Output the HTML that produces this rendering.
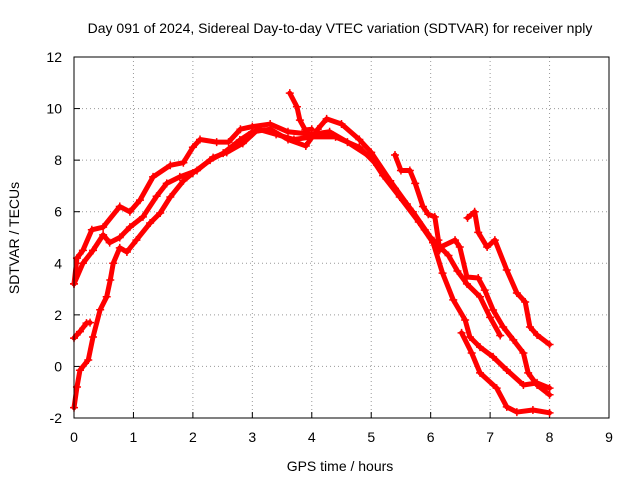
<!DOCTYPE html>
<html><head><meta charset="utf-8"><style>
body{margin:0;background:#fff}
svg text{font-family:"Liberation Sans",sans-serif;font-size:14px;fill:#000}
</style></head><body>
<svg id="c" width="640" height="480">
<text x="340" y="33" text-anchor="middle">Day 091 of 2024, Sidereal Day-to-day VTEC variation (SDTVAR) for receiver nply</text>
<text x="340" y="471" text-anchor="middle">GPS time / hours</text>
<text transform="translate(19,238) rotate(-90)" text-anchor="middle">SDTVAR / TECUs</text>
<g id="grid"></g>
<g id="ticks"></g>
<g id="series"></g>
<rect x="74" y="57" width="535" height="361" fill="none" stroke="#000"/>
</svg>
<script>
const xTicks=[0,1,2,3,4,5,6,7,8,9];
const yTicks=[-2,0,2,4,6,8,10,12];
const trackA=[[0,3.2],[0.05,4.2],[0.15,4.5],[0.3,5.3],[0.49,5.4],[0.77,6.2],[0.94,6.0],[1.11,6.45],[1.33,7.35],[1.62,7.8],[1.84,7.9],[2.0,8.5],[2.12,8.8],[2.4,8.7],[2.6,8.7],[2.8,9.2],[3.0,9.3],[3.3,9.4],[3.6,9.1],[4.0,9.0],[4.3,9.1],[4.6,8.7],[5.0,8.1],[5.2,7.4],[5.48,6.57],[5.8,5.6],[6.04,4.8],[6.14,4.6],[6.41,4.9],[6.49,4.63],[6.61,3.47],[6.8,3.43],[6.91,2.96],[7.05,2.19],[7.22,1.53],[7.39,1.03],[7.56,0.52],[7.64,-0.25],[7.79,-0.72],[8.0,-1.1]];
const trackB=[[0,-1.6],[0.05,-0.8],[0.1,-0.15],[0.24,0.25],[0.32,1.14],[0.44,2.2],[0.55,2.7],[0.61,3.35],[0.66,4.0],[0.77,4.6],[0.89,4.44],[1.05,4.9],[1.28,5.56],[1.45,5.95],[1.62,6.57],[1.84,7.2],[2.0,7.5],[2.29,8.0],[2.51,8.27],[2.79,8.78],[3.0,9.1],[3.3,9.2],[3.6,8.8],[3.9,8.55],[4.1,9.2],[4.25,9.6],[4.5,9.4],[4.8,8.8],[5.0,8.3],[5.32,7.2],[5.6,6.3],[5.9,5.3],[6.04,4.8],[6.2,3.62],[6.38,2.58],[6.58,1.8],[6.66,1.14],[6.83,0.75],[7.05,0.37],[7.28,-0.14],[7.56,-0.72],[7.79,-0.64],[8.0,-0.84]];
const trackC=[[0,3.2],[0.15,4.0],[0.32,4.5],[0.49,5.1],[0.6,4.8],[0.77,5.0],[0.94,5.4],[1.16,5.8],[1.39,6.6],[1.56,7.1],[1.78,7.35],[2.07,7.6],[2.34,8.1],[2.57,8.3],[2.84,8.65],[3.1,9.2],[3.4,9.0],[3.7,8.8],[4.0,8.9],[4.4,8.9],[4.8,8.5],[5.1,7.8],[5.4,6.9],[5.7,6.0],[6.0,5.0],[6.3,4.3],[6.45,3.7],[6.61,3.2],[6.83,2.7],[7.0,1.9],[7.17,1.2]];
const trackD=[[0,1.1],[0.1,1.35],[0.21,1.68],[0.27,1.7]];
const trackE=[[3.63,10.6],[3.75,10.07],[3.8,9.55],[3.89,9.17],[4.0,9.2]];
const trackF=[[5.4,8.2],[5.5,7.6],[5.65,7.6],[5.74,7.1],[5.87,6.2],[5.96,5.9],[6.07,5.8],[6.13,4.9],[6.15,4.5]];
const trackG=[[6.62,5.76],[6.74,6.0],[6.8,5.2],[6.95,4.63],[7.08,4.9],[7.28,3.74],[7.45,2.85],[7.59,2.5],[7.67,1.53],[7.79,1.22],[8.0,0.85]];
const trackH=[[6.52,1.3],[6.69,0.52],[6.83,-0.25],[7.11,-0.84],[7.28,-1.57],[7.45,-1.77],[7.72,-1.69],[8.0,-1.8]];
const tracks=[trackA,trackB,trackC,trackD,trackE,trackF,trackG,trackH];
const X=v=>74+v*535/9, Y=v=>418-(v+2)*361/14;
const NS='http://www.w3.org/2000/svg';
const mk=(t,a,p)=>{const e=document.createElementNS(NS,t);for(const k in a)e.setAttribute(k,a[k]);p.appendChild(e);return e;};
const grid=document.getElementById('grid'),ticks=document.getElementById('ticks'),ser=document.getElementById('series');
xTicks.forEach(t=>{const x=X(t);
 if(t>0&&t<9){const l=mk('line',{x1:x,x2:x,y1:57,y2:418,stroke:'#999','stroke-dasharray':'1,3'},grid);}
 const tk=mk('line',{x1:x,x2:x,y1:418,y2:412,stroke:'#000'},ticks);
 const tx=mk('text',{x:x,y:442,'text-anchor':'middle'},ticks);tx.textContent=t;});
yTicks.forEach(t=>{const y=Y(t);
 if(t>-2&&t<12){const l=mk('line',{x1:74,x2:609,y1:y,y2:y,stroke:'#999','stroke-dasharray':'1,3'},grid);}
 const tk=mk('line',{x1:74,x2:80,y1:y,y2:y,stroke:'#000'},ticks);
 const tx=mk('text',{x:62,y:y+5,'text-anchor':'end'},ticks);tx.textContent=t;});
tracks.forEach(tr=>{
 const pl=mk('polyline',{points:tr.map(p=>X(p[0])+','+Y(p[1])).join(' '),fill:'none',stroke:'#f00','stroke-width':5,'stroke-linejoin':'round','stroke-linecap':'round'},ser);
 
 
 tr.forEach(p=>{const x=X(p[0]),y=Y(p[1]);
  const m=mk('path',{d:`M${x-4},${y}H${x+4}M${x},${y-4}V${y+4}`,stroke:'#f00','stroke-width':1.5},ser);
  
  });
});
</script>
</body></html>
